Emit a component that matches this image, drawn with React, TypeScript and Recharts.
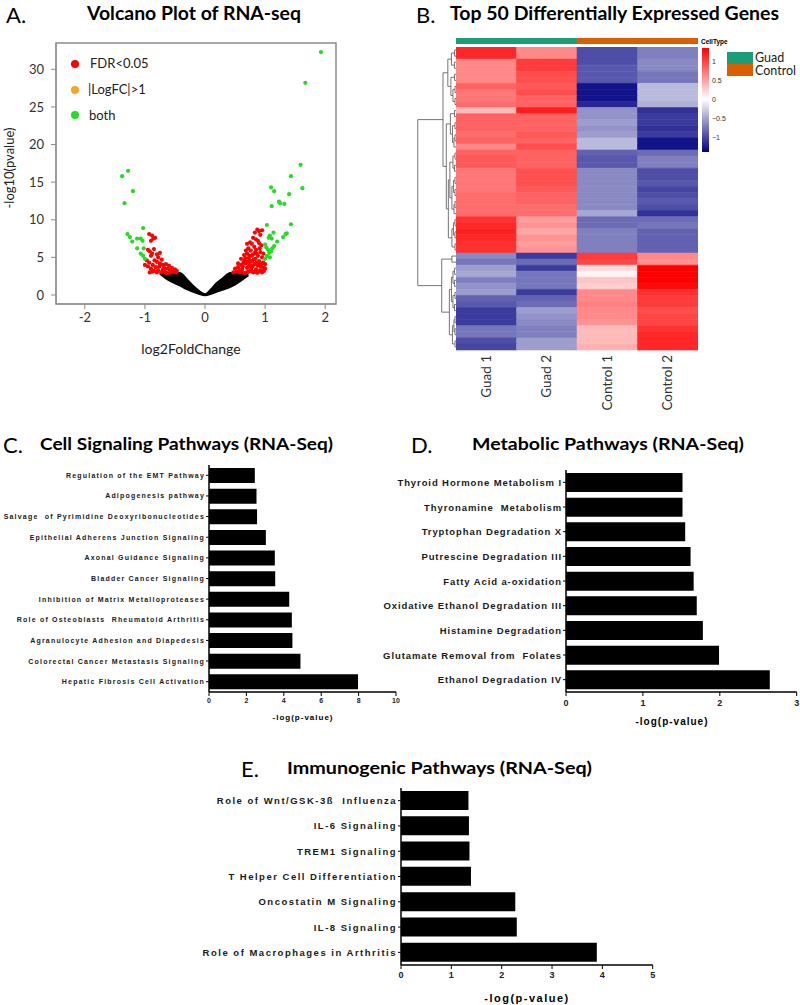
import React from 'react';
import {
  ComposedChart, Scatter, Area, XAxis, YAxis, ReferenceArea,
  BarChart, Bar, Cell, ScatterChart,
} from 'recharts';

const SANS = '"Liberation Sans", Arial, sans-serif';
const CAL = 'Lato, "Open Sans", sans-serif';

// ---------- Panel A: volcano ----------
const volcanoXTicks = [-2, -1, 0, 1, 2];
const volcanoYTicks = [0, 5, 10, 15, 20, 25, 30];
const volcanoBandX = [-0.75, -0.6, -0.42, -0.3, -0.19, -0.1, 0, 0.1, 0.19, 0.3, 0.42, 0.55, 0.72];
const volcanoBandLow = [2.9, 2.0, 1.3, 0.8, 0.45, 0.2, 0, 0.2, 0.45, 0.75, 1.1, 1.7, 2.65];
const volcanoBandHigh = [2.9, 2.9, 2.9, 2.0, 1.1, 0.5, 0.05, 0.7, 1.5, 2.2, 2.9, 2.9, 2.9];
const redPoints = [
  [-0.93, 8.1], [-0.88, 7.9], [-0.86, 7.5], [-0.9, 7.2], [-0.83, 7.6], [-0.95, 6.0], [-0.92, 5.8], [-0.88, 5.5],
  [-0.85, 6.1], [-0.9, 5.2], [-0.8, 5.4], [-0.78, 5.0], [-0.75, 5.6], [-0.97, 4.6], [-0.93, 4.3], [-0.87, 4.0],
  [-0.84, 4.6], [-0.8, 4.4], [-0.75, 4.2], [-0.72, 4.7], [-0.7, 4.0], [-0.68, 3.6], [-0.65, 4.1], [-0.62, 3.5],
  [-0.6, 3.9], [-0.58, 3.3], [-0.55, 3.6], [-0.52, 3.1], [-0.5, 3.4], [-0.48, 3.0], [-0.95, 3.8], [-0.9, 3.5],
  [-0.85, 3.2], [-0.82, 3.7], [-0.78, 3.3], [-0.73, 3.0], [-0.68, 3.2], [-0.63, 2.9], [-0.58, 3.0], [-0.92, 3.0],
  [-0.88, 3.1], [-1.0, 4.0], [-0.8, 3.0], [-0.7, 3.4], [-0.66, 3.0], [-0.76, 3.8], [-0.55, 3.1], [-0.47, 3.2],
  [0.87, 8.7], [0.9, 8.5], [0.95, 8.6], [0.83, 8.3], [0.92, 8.0], [0.8, 7.6], [0.85, 7.4], [0.75, 7.0],
  [0.78, 6.8], [0.7, 6.8], [0.88, 7.2], [0.9, 6.9], [0.94, 6.6], [0.82, 6.4], [0.72, 6.2], [0.68, 5.9],
  [0.76, 5.9], [0.85, 6.0], [0.92, 5.7], [0.97, 5.5], [0.65, 5.3], [0.7, 5.5], [0.8, 5.4], [0.88, 5.2],
  [0.95, 5.0], [0.6, 4.8], [0.66, 4.6], [0.73, 4.9], [0.78, 4.5], [0.84, 4.8], [0.9, 4.5], [0.97, 4.3],
  [0.55, 4.2], [0.6, 4.0], [0.68, 4.2], [0.75, 4.0], [0.82, 4.1], [0.88, 3.9], [0.93, 3.8], [0.5, 3.5],
  [0.55, 3.7], [0.62, 3.4], [0.7, 3.6], [0.77, 3.5], [0.85, 3.4], [0.92, 3.3], [0.98, 3.6], [0.47, 3.0],
  [0.52, 3.1], [0.58, 3.0], [0.65, 2.9], [0.72, 3.1], [0.8, 3.0], [0.87, 2.95], [0.95, 3.0], [1.0, 3.5],
  [1.0, 4.1], [0.63, 3.8], [0.71, 4.4], [0.79, 3.8], [0.86, 4.3], [0.91, 6.2], [0.83, 5.6], [0.74, 5.2],
  [0.57, 3.3], [0.64, 4.3], [0.69, 3.0], [0.76, 3.2], [0.83, 3.1], [0.9, 3.1], [0.98, 3.2], [0.67, 4.9],
  [0.74, 4.5], [0.81, 4.7], [0.89, 4.2], [0.94, 4.1], [0.78, 5.2], [0.86, 5.5], [0.73, 3.8], [0.6, 3.2],
];
const greenPoints = [
  [1.93, 32.3], [1.67, 28.2], [1.59, 17.3], [1.43, 15.8], [1.62, 14.2], [1.4, 13.4], [1.1, 14.3], [1.15, 13.8],
  [1.23, 12.4], [1.25, 12.2], [1.32, 12.1], [1.11, 11.8], [1.03, 9.3], [1.43, 9.4], [1.14, 8.3], [1.08, 7.9],
  [1.06, 7.6], [1.11, 7.5], [1.2, 7.1], [1.3, 7.7], [1.34, 8.1], [1.36, 8.2], [1.0, 6.7], [1.02, 6.3],
  [1.05, 6.0], [1.07, 5.6], [1.1, 5.8], [1.12, 6.2], [1.15, 6.5], [1.03, 5.2], [1.0, 4.8], [1.08, 5.0],
  [-1.28, 16.5], [-1.38, 15.8], [-1.2, 13.8], [-1.34, 12.2], [-1.03, 8.9], [-1.29, 8.1], [-1.25, 7.7],
  [-1.13, 7.5], [-1.07, 7.5], [-1.04, 7.2], [-1.21, 7.1], [-1.13, 6.2], [-1.02, 6.2], [-1.07, 5.5],
  [-1.03, 5.2], [-1.0, 4.8],
];

// ---------- Panel B: heatmap ----------
const heatColumns = ['Guad 1', 'Guad 2', 'Control 1', 'Control 2'];
const heatGroups = ['Guad', 'Guad', 'Control', 'Control'];
const guad1 = [1.1, 1.1, 0.6, 0.6, 0.6, 0.6, 0.8, 0.7, 0.7, 0.75, 0.35, 0.8, 0.8, 0.8, 0.75, 0.8, 0.6, 0.8, 0.85, 0.85,
  0.7, 0.7, 0.7, 0.7, 0.75, 0.75, 0.75, 0.75, 1.05, 1.1, 1.15, 1.1, 1.05, 1.05,
  -0.6, -0.7, -0.5, -0.45, -0.65, -0.55, -0.5, -0.8, -0.85, -1.0, -1.0, -1.0, -0.7, -0.7, -0.9, -0.95];
const guad2 = [0.6, 0.6, 1.0, 1.0, 0.9, 0.9, 0.85, 0.9, 0.8, 0.8, 1.15, 0.8, 0.8, 0.8, 0.85, 0.8, 0.9, 0.8, 0.8, 0.8,
  0.9, 0.9, 0.9, 0.85, 0.8, 0.8, 0.75, 0.75, 0.5, 0.55, 0.45, 0.55, 0.5, 0.55,
  -1.0, -0.75, -1.0, -0.7, -0.7, -0.7, -1.0, -0.8, -0.75, -0.5, -0.55, -0.6, -0.65, -0.65, -0.5, -0.5];
const control1 = [-0.9, -0.9, -0.9, -0.85, -0.85, -0.85, -1.2, -1.2, -1.2, -1.1, -0.55, -0.55, -0.5, -0.55, -0.5, -0.35, -0.35, -0.8, -0.85, -0.85,
  -0.6, -0.6, -0.6, -0.6, -0.6, -0.6, -0.6, -0.45, -0.75, -0.75, -0.65, -0.65, -0.65, -0.65,
  1.0, 0.95, 0.2, 0.05, 0.3, 0.25, 0.6, 0.6, 0.65, 0.6, 0.6, 0.55, 0.35, 0.35, 0.35, 0.4];
const control2 = [-0.65, -0.65, -0.6, -0.6, -0.7, -0.7, -0.35, -0.35, -0.35, -0.4, -1.05, -1.0, -1.0, -1.05, -1.0, -1.2, -1.2, -0.75, -0.65, -0.65,
  -0.9, -0.9, -0.85, -0.95, -0.9, -0.85, -0.9, -1.05, -0.75, -0.7, -0.8, -0.8, -0.8, -0.8,
  0.6, 0.55, 1.3, 1.3, 1.3, 1.25, 1.05, 1.0, 1.0, 0.9, 0.95, 0.95, 1.05, 1.1, 1.1, 1.1];
const heatValues = [guad1, guad2, control1, control2];
const colorbarTicks = [-1, -0.5, 0, 0.5, 1];
// dendrogram merges: [mergeHeight, topPos, topChildHeight, bottomPos, bottomChildHeight]
const dendroMerges = [
  [0.3, 0, 0, 1, 0], [0.3, 2, 0, 3, 0], [0.9, 0.5, 0.3, 2.5, 0.3], [0.3, 4, 0, 5, 0], [0.2, 6, 0, 7, 0], [0.2, 8, 0, 9, 0],
  [0.6, 6.5, 0.2, 8.5, 0.2], [1.0, 4.5, 0.3, 7.5, 0.6], [1.6, 1.5, 0.9, 6, 1.0],
  [0.3, 10, 0, 11, 0], [0.2, 12, 0, 13, 0], [0.2, 14, 0, 15, 0], [0.4, 14.5, 0.2, 16, 0], [0.7, 12.5, 0.2, 15.25, 0.4], [1.1, 10.5, 0.3, 13.875, 0.7],
  [0.2, 17, 0, 18, 0], [0.3, 19, 0, 20, 0], [0.2, 21, 0, 22, 0], [0.2, 23, 0, 24, 0], [0.2, 25, 0, 26, 0], [0.4, 25.5, 0.2, 27, 0],
  [0.6, 17.5, 0.2, 19.5, 0.3], [0.5, 21.5, 0.2, 23.5, 0.2], [0.8, 22.5, 0.5, 26.25, 0.4], [1.2, 18.5, 0.6, 24.375, 0.8],
  [0.2, 28, 0, 29, 0], [0.2, 30, 0, 31, 0], [0.2, 32, 0, 33, 0], [0.5, 28.5, 0.2, 30.5, 0.2], [0.8, 29.5, 0.5, 32.5, 0.2],
  [1.5, 21.44, 1.2, 31, 0.8], [1.9, 12.19, 1.1, 26.22, 1.5], [2.55, 3.75, 1.6, 19.2, 1.9],
  [0.8, 34, 0, 35, 0], [0.3, 36, 0, 37, 0], [0.3, 38, 0, 39, 0], [0.6, 36.5, 0.3, 38.5, 0.3], [0.2, 40, 0, 41, 0], [0.3, 42, 0, 43, 0],
  [0.6, 40.5, 0.2, 42.5, 0.3], [0.9, 37.5, 0.6, 41.5, 0.6], [0.2, 44, 0, 45, 0], [0.2, 46, 0, 47, 0], [0.2, 48, 0, 49, 0],
  [0.4, 44.5, 0.2, 46.5, 0.2], [0.7, 45.5, 0.4, 48.5, 0.2], [1.3, 39.5, 0.9, 47, 0.7], [2.8, 34.5, 0.8, 43.25, 1.3],
  [7.5, 11.48, 2.55, 38.875, 2.8],
];

// ---------- Panel C ----------
const cLabels = ['Regulation of the EMT Pathway', 'Adipogenesis pathway', 'Salvage  of Pyrimidine Deoxyribonucleotides',
  'Epithelial Adherens Junction Signaling', 'Axonal Guidance Signaling', 'Bladder Cancer Signaling',
  'Inhibition of Matrix Metalloproteases', 'Role of Osteoblasts  Rheumatoid Arthritis',
  'Agranulocyte Adhesion and Diapedesis', 'Colorectal Cancer Metastasis Signaling', 'Hepatic Fibrosis Cell Activation'];
const cValues = [2.45, 2.54, 2.57, 3.04, 3.52, 3.54, 4.29, 4.43, 4.46, 4.89, 7.97];
const cTicks = [0, 2, 4, 6, 8, 10];

// ---------- Panel D ----------
const dLabels = ['Thyroid Hormone Metabolism I', 'Thyronamine  Metabolism', 'Tryptophan Degradation X',
  'Putrescine Degradation III', 'Fatty Acid a-oxidation', 'Oxidative Ethanol Degradation III',
  'Histamine Degradation', 'Glutamate Removal from  Folates', 'Ethanol Degradation IV'];
const dValues = [1.515, 1.515, 1.55, 1.62, 1.66, 1.70, 1.78, 1.99, 2.65];
const dTicks = [0, 1, 2, 3];

// ---------- Panel E ----------
const eLabels = ['Role of Wnt/GSK-3ß  Influenza', 'IL-6 Signaling', 'TREM1 Signaling', 'T Helper Cell Differentiation',
  'Oncostatin M Signaling', 'IL-8 Signaling', 'Role of Macrophages in Arthritis'];
const eValues = [1.34, 1.35, 1.36, 1.39, 2.27, 2.30, 3.89];
const eTicks = [0, 1, 2, 3, 4, 5];

// ---------- helpers ----------
const NAVY = [0, 0, 128];
function heatColor(v: number) {
  const t = Math.max(-1, Math.min(1, v / 1.3));
  if (t >= 0) {
    const g = Math.round(255 * (1 - t));
    return `rgb(255,${g},${g})`;
  }
  const s = -t;
  const r = Math.round(255 + (NAVY[0] - 255) * s);
  const g = Math.round(255 + (NAVY[1] - 255) * s);
  const b = Math.round(255 + (NAVY[2] - 255) * s);
  return `rgb(${r},${g},${b})`;
}
const groupColor: Record<string, string> = { Guad: '#1b9e77', Control: '#d95f02' };

const dotShape = (color: string) => (p: any) => <circle cx={p.cx} cy={p.cy} r={2.1} fill={color} />;

function Volcano() {
  const band = volcanoBandX.map((x, i) => ({ x, band: [volcanoBandLow[i], volcanoBandHigh[i]] }));
  const red = redPoints.map(([x, y]) => ({ x, y }));
  const green = greenPoints.map(([x, y]) => ({ x, y }));
  const axisTick = { fill: '#333', fontSize: 13, fontFamily: CAL };
  return (
    <div style={{ position: 'absolute', left: 0, top: 0 }}>
      <ComposedChart width={400} height={360} data={band} margin={{ top: 43, right: 64, bottom: 26, left: 0 }}>
        <XAxis type="number" dataKey="x" domain={[-2.48, 2.18]} ticks={volcanoXTicks} allowDataOverflow height={30}
          tickSize={5} tickMargin={4} stroke="#8c8c8c" tick={axisTick} interval={0} />
        <YAxis type="number" dataKey="y" domain={[-1.2, 33.5]} ticks={volcanoYTicks} allowDataOverflow width={56}
          tickSize={5} tickMargin={7} stroke="#8c8c8c" tick={axisTick} interval={0} />
        <ReferenceArea x1={-2.48} x2={2.18} y1={-1.2} y2={33.5} fill="none" stroke="#8c8c8c" strokeWidth={1.5} />
        <Area type="monotone" dataKey="band" fill="#000" fillOpacity={1} stroke="#000" strokeWidth={2.5}
          isAnimationActive={false} dot={false} activeDot={false} />
        <Scatter data={red} shape={dotShape('#ff0000')} isAnimationActive={false} />
        <Scatter data={green} shape={dotShape('#22dd22')} isAnimationActive={false} />
      </ComposedChart>
    </div>
  );
}

function ColTick(p: any) {
  return (
    <text x={p.x} y={p.y} transform={`rotate(-90 ${p.x} ${p.y})`} textAnchor="end" dy="0.35em"
      fontSize={13.5} fontFamily={CAL} fill="#333">{p.payload.value}</text>
  );
}

function Heatmap() {
  const data = heatColumns.map((c, j) => {
    const o: any = { col: c, group: heatGroups[j], one: 1 };
    guad1.forEach((_, i) => { o['r' + i] = 1; });
    return o;
  });
  return (
    <>
      <div style={{ position: 'absolute', left: 456, top: 38 }}>
        <BarChart width={242} height={6} data={data} margin={{ top: 0, right: 0, left: 0, bottom: 0 }} barCategoryGap={0}>
          <XAxis dataKey="col" hide />
          <YAxis type="number" domain={[0, 1]} hide />
          <Bar dataKey="one" isAnimationActive={false}>
            {data.map((d, j) => <Cell key={j} fill={groupColor[d.group]} stroke={groupColor[d.group]} strokeWidth={0.5} />)}
          </Bar>
        </BarChart>
      </div>
      <div style={{ position: 'absolute', left: 456, top: 47 }}>
        <BarChart width={242} height={373} data={data} margin={{ top: 0, right: 0, left: 0, bottom: 0 }} barCategoryGap={0} barGap={0}>
          <XAxis dataKey="col" tickLine={false} axisLine={false} height={70} interval={0} tickSize={0} tickMargin={5} tick={<ColTick />} />
          <YAxis type="number" domain={[0, 50]} reversed hide />
          {guad1.map((_, i) => (
            <Bar key={i} dataKey={'r' + i} stackId="h" isAnimationActive={false}>
              {heatValues.map((col, j) => (
                <Cell key={j} fill={heatColor(col[i])} stroke={heatColor(col[i])} strokeWidth={0.6} />
              ))}
            </Bar>
          ))}
        </BarChart>
      </div>
      <div style={{ position: 'absolute', left: 405, top: 47 }}>
        <ScatterChart width={51} height={303} margin={{ top: 0, right: 0, left: 0, bottom: 0 }}>
          <XAxis type="number" dataKey="x" domain={[0, 10]} reversed hide />
          <YAxis type="number" dataKey="y" domain={[0, 50]} reversed hide />
          {dendroMerges.map(([h, yt, ht, yb, hb], k) => (
            <Scatter key={k} isAnimationActive={false}
              data={[{ x: ht, y: yt + 0.5 }, { x: h, y: yt + 0.5 }, { x: h, y: yb + 0.5 }, { x: hb, y: yb + 0.5 }]}
              line={{ stroke: '#666', strokeWidth: 0.9 }} lineType="joint" shape={() => <g />} />
          ))}
        </ScatterChart>
      </div>
      <div style={{ position: 'absolute', left: 702, top: 48 }}>
        <BarChart width={30} height={104} data={[{ k: 'scale', range: [-1.37, 1.35] }]}
          margin={{ top: 0, right: 0, left: 0, bottom: 0 }} barCategoryGap={0}>
          <defs>
            <linearGradient id="cbar" x1="0" y1="0" x2="0" y2="1">
              <stop offset="0%" stopColor={heatColor(1.35)} />
              <stop offset="49.3%" stopColor="#ffffff" />
              <stop offset="100%" stopColor={heatColor(-1.37)} />
            </linearGradient>
          </defs>
          <XAxis dataKey="k" hide />
          <YAxis type="number" orientation="right" domain={[-1.37, 1.35]} ticks={colorbarTicks} width={23}
            axisLine={false} tickLine={false} tickSize={0} tickMargin={3} interval={0}
            tickFormatter={(v: number) => (v < 0 ? '\u2212' + Math.abs(v) : String(v))}
            tick={{ fontSize: 7, fill: '#333', fontFamily: SANS }} />
          <Bar dataKey="range" fill="url(#cbar)" isAnimationActive={false} />
        </BarChart>
      </div>
    </>
  );
}

const labelTick = (fontSize: number, spacing: number) => (p: any) => (
  <text x={p.x} y={p.y} textAnchor="end" dominantBaseline="central" fontSize={fontSize} fontWeight="bold"
    fontFamily={SANS} letterSpacing={spacing} fill="#1a1a1a" style={{ whiteSpace: 'pre' }}>{p.payload.value}</text>
);

function HBar(props: {
  labels: string[]; values: number[]; left: number; top: number; width: number; height: number;
  yAxisW: number; mTop: number; mRight: number; mBottom: number; xH: number; xMax: number; ticks: number[];
  barSize: number; labelSize: number; labelSpacing: number; tickSize: number; tickMargin: number;
}) {
  const data = props.labels.map((l, i) => ({ name: l, v: props.values[i] }));
  return (
    <div style={{ position: 'absolute', left: props.left, top: props.top }}>
      <BarChart layout="vertical" width={props.width} height={props.height} data={data}
        margin={{ top: props.mTop, right: props.mRight, left: 0, bottom: props.mBottom }}>
        <XAxis type="number" domain={[0, props.xMax]} ticks={props.ticks} interval={0} height={props.xH}
          tickSize={4} tickMargin={props.tickMargin} axisLine={{ stroke: '#000', strokeWidth: 1.5 }} tickLine={{ stroke: '#000' }}
          tick={{ fontSize: props.tickSize, fontWeight: 'bold', fill: '#222', fontFamily: SANS }} />
        <YAxis type="category" dataKey="name" width={props.yAxisW} interval={0} tickSize={3} tickMargin={1}
          axisLine={{ stroke: '#000', strokeWidth: 1.5 }} tickLine={{ stroke: '#000' }}
          tick={labelTick(props.labelSize, props.labelSpacing)} />
        <Bar dataKey="v" fill="#000" barSize={props.barSize} isAnimationActive={false} />
      </BarChart>
    </div>
  );
}

function Overlay() {
  const t = (x: number, y: number, s: string, size: number, opts: any = {}) => (
    <text x={x} y={y} fontSize={size} dominantBaseline="central" fontFamily={opts.family || CAL}
      fontWeight={opts.bold ? 'bold' : 'normal'} textAnchor={opts.anchor || 'start'} fill={opts.fill || '#000'}
      letterSpacing={opts.ls} textLength={opts.len} lengthAdjust={opts.len ? 'spacingAndGlyphs' : undefined}
      transform={opts.rot ? `rotate(-90 ${x} ${y})` : undefined}>{s}</text>
  );
  return (
    <svg width={800} height={1005} style={{ position: 'absolute', left: 0, top: 0, pointerEvents: 'none' }}>
      {t(6, 14, 'A.', 22)}
      {t(87, 13, 'Volcano Plot of RNA-seq', 18, { bold: true, len: 214 })}
      {t(9, 168, '-log10(pvalue)', 13, { anchor: 'middle', rot: true, fill: '#222' })}
      {t(191, 348, 'log2FoldChange', 14, { anchor: 'middle', fill: '#222' })}
      <circle cx={75} cy={64} r={4} fill="#ff0000" />
      <circle cx={75} cy={90} r={4} fill="#f5a623" />
      <circle cx={75} cy={115} r={4} fill="#22dd22" />
      {t(90, 63, 'FDR<0.05', 13, { fill: '#222' })}
      {t(88, 89, '|LogFC|>1', 13, { fill: '#222' })}
      {t(89, 115, 'both', 13, { fill: '#222' })}

      {t(416, 14, 'B.', 22)}
      {t(450, 13, 'Top 50 Differentially Expressed Genes', 18, { bold: true, len: 329 })}
      {t(701, 41, 'CellType', 6.5, { bold: true, family: SANS })}
      <rect x={727} y={52} width={26} height={12} fill="#1b9e77" />
      <rect x={727} y={64} width={26} height={12} fill="#d95f02" />
      {t(755, 57, 'Guad', 12.5, { fill: '#222' })}
      {t(755, 70.5, 'Control', 12.5, { fill: '#222' })}

      {t(3, 444, 'C.', 22)}
      {t(40, 443, 'Cell Signaling Pathways (RNA-Seq)', 17.5, { bold: true, len: 293 })}
      {t(303, 717, '-log(p-value)', 8, { anchor: 'middle', bold: true, family: SANS, ls: 1 })}

      {t(411, 444, 'D.', 22)}
      {t(472, 443, 'Metabolic Pathways (RNA-Seq)', 17.5, { bold: true, len: 272 })}
      {t(672, 721, '-log(p-value)', 10, { anchor: 'middle', bold: true, family: SANS, ls: 1 })}

      {t(241, 768, 'E.', 22)}
      {t(287, 767, 'Immunogenic Pathways (RNA-Seq)', 17.5, { bold: true, len: 305 })}
      {t(527, 998, '-log(p-value)', 11, { anchor: 'middle', bold: true, family: SANS, ls: 1.5 })}
    </svg>
  );
}

export default function App() {
  return (
    <div style={{ position: 'absolute', left: 0, top: 0, width: 800, height: 1005, background: '#fff', overflow: 'hidden' }}>
      <Volcano />
      <Heatmap />
      <HBar labels={cLabels} values={cValues} left={0} top={455} width={410} height={270} yAxisW={209}
        mTop={10} mRight={14} mBottom={13} xH={20} xMax={10} ticks={cTicks} barSize={15}
        labelSize={7} labelSpacing={1.2} tickSize={7} tickMargin={2} />
      <HBar labels={dLabels} values={dValues} left={360} top={460} width={440} height={270} yAxisW={206}
        mTop={10} mRight={3.3} mBottom={16} xH={22} xMax={3} ticks={dTicks} barSize={19}
        labelSize={9.5} labelSpacing={0.9} tickSize={9} tickMargin={4} />
      <HBar labels={eLabels} values={eValues} left={190} top={778} width={470} height={227} yAxisW={211}
        mTop={10} mRight={7.3} mBottom={20} xH={20} xMax={5} ticks={eTicks} barSize={19}
        labelSize={9.5} labelSpacing={1.5} tickSize={9} tickMargin={3} />
      <Overlay />
    </div>
  );
}
